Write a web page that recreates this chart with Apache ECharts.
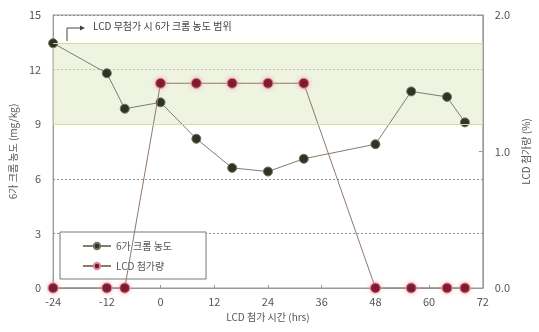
<!DOCTYPE html>
<html><head><meta charset="utf-8">
<script src="https://cdn.jsdelivr.net/npm/echarts@6/dist/echarts.min.js"></script>
<style>html,body{margin:0;padding:0;background:#fff}#c{width:539px;height:332px}</style>
</head><body><div id="c"></div>
<script>
const hours = [-24, -12, -8, 0, 8, 16, 24, 32, 48, 56, 64, 68];
const chromium = [13.45, 11.8, 9.85, 10.2, 8.2, 6.6, 6.4, 7.1, 7.9, 10.8, 10.5, 9.1];
const lcd = [0, 0, 0, 1.5, 1.5, 1.5, 1.5, 1.5, 0, 0, 0, 0];
const bandRange = [9, 13.45];
const xTicks = [-24, -12, 0, 12, 24, 36, 48, 60, 72];
const seriesNames = ['6가 크롬 농도', 'LCD 첨가량'];
const annotation = 'LCD 무첨가 시 6가 크롬 농도 범위';

const FONT = '"Noto Sans CJK KR", "DejaVu Sans", sans-serif';
const chart = echarts.init(document.getElementById('c'));
chart.setOption({
  backgroundColor: '#fff',
  animation: false,
  textStyle: { fontFamily: FONT },
  grid: { left: 51, right: 48, top: 15, bottom: 44, show: true, borderColor: '#999', borderWidth: 1 },
  legend: {
    orient: 'vertical', left: 60, top: 232,
    backgroundColor: '#fff', borderColor: '#777', borderWidth: 1,
    padding: [9, 34, 8, 22], itemGap: 10, itemWidth: 28, itemHeight: 8,
    textStyle: { fontFamily: FONT, fontSize: 10, color: '#555' },
    data: seriesNames
  },
  xAxis: {
    type: 'value', min: -24, max: 72, interval: 12,
    name: 'LCD 첨가 시간 (hrs)', nameLocation: 'middle', nameGap: 24,
    nameTextStyle: { fontFamily: FONT, fontSize: 10, color: '#555' },
    axisLine: { onZero: false, lineStyle: { color: '#999' } },
    axisTick: { inside: true, length: 3, lineStyle: { color: '#999' } },
    axisLabel: { fontSize: 11, color: '#555', margin: 8,
      formatter: v => xTicks.includes(v) ? String(v) : '' },
    splitLine: { show: false }
  },
  yAxis: [{
    type: 'value', min: 0, max: 15, interval: 3,
    name: '6가 크롬 농도 (mg/kg)', nameLocation: 'middle', nameGap: 33, nameRotate: 90,
    nameTextStyle: { fontFamily: FONT, fontSize: 10, color: '#555' },
    axisLine: { show: true, onZero: false, lineStyle: { color: '#999' } },
    axisTick: { show: false },
    axisLabel: { fontSize: 11, color: '#555', margin: 12 },
    splitLine: { show: true, lineStyle: { color: '#888', type: [2, 2], width: 1 } }
  }, {
    type: 'value', min: 0, max: 2, interval: 1,
    name: 'LCD 첨가량 (%)', nameLocation: 'middle', nameGap: 30, nameRotate: 90,
    nameTextStyle: { fontFamily: FONT, fontSize: 10, color: '#555' },
    axisLine: { show: true, onZero: false, lineStyle: { color: '#999' } },
    axisTick: { show: true, inside: true, length: 4, lineStyle: { color: '#999' } },
    axisLabel: { fontSize: 11, color: '#555', margin: 12, formatter: v => v.toFixed(1) },
    splitLine: { show: false }
  }],
  series: [{
    name: seriesNames[0], type: 'line', yAxisIndex: 0,
    data: hours.map((h, i) => [h, chromium[i]]),
    symbol: 'circle', symbolSize: 9,
    lineStyle: { color: '#7d7d70', width: 1 },
    itemStyle: { color: '#2f3424', borderColor: '#6f7560', borderWidth: 1 },
    z: 3,
    markArea: {
      silent: true,
      itemStyle: { color: 'rgba(225,235,200,0.55)' },
      data: [[{ xAxis: -24, yAxis: bandRange[0] }, { xAxis: 72, yAxis: bandRange[1] }]]
    },
    markLine: {
      silent: true, symbol: 'none', label: { show: false },
      lineStyle: { color: '#d3dc9c', type: 'solid', width: 1.2 },
      data: [{ yAxis: bandRange[0] }, { yAxis: bandRange[1] }]
    }
  }, {
    name: seriesNames[1], type: 'line', yAxisIndex: 1,
    data: hours.map((h, i) => [h, lcd[i]]),
    symbol: 'circle', symbolSize: 10,
    lineStyle: { color: '#8f7868', width: 1 },
    itemStyle: { color: '#7a1326', borderColor: '#d98a98', borderWidth: 1,
      shadowBlur: 4, shadowColor: 'rgba(240,140,160,0.6)' },
    z: 4
  }],
  graphic: [{
    type: 'polyline', shape: { points: [[67, 41], [67, 28], [80, 28]] },
    style: { stroke: '#444', lineWidth: 1, fill: null }
  }, {
    type: 'polygon', shape: { points: [[80, 25.5], [85, 28], [80, 30.5]] },
    style: { fill: '#444' }
  }, {
    type: 'text', left: 93, top: 21,
    style: { text: annotation, fontFamily: FONT, fontSize: 10, fill: '#444' }
  }]
});
</script></body></html>
